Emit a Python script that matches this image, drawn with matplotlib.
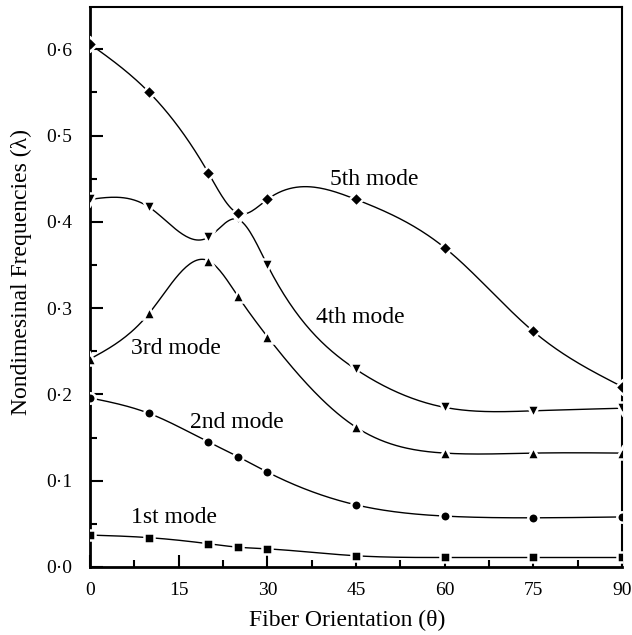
import numpy as np
import matplotlib
matplotlib.use("Agg")
import matplotlib.pyplot as plt
from matplotlib.ticker import MultipleLocator, FuncFormatter

theta = [0, 10, 20, 25, 30, 45, 60, 75, 90]
mode1 = [0.037, 0.034, 0.027, 0.023, 0.021, 0.013, 0.011, 0.011, 0.011]
mode2 = [0.196, 0.178, 0.145, 0.128, 0.110, 0.072, 0.059, 0.057, 0.058]
mode3 = [0.241, 0.294, 0.355, 0.314, 0.267, 0.162, 0.132, 0.132, 0.132]
mode4 = [0.426, 0.417, 0.382, 0.403, 0.350, 0.229, 0.185, 0.181, 0.184]
mode5 = [0.606, 0.550, 0.457, 0.410, 0.426, 0.426, 0.370, 0.273, 0.209]

labels = ["1st mode", "2nd mode", "3rd mode", "4th mode", "5th mode"]
label_x = [14.2, 24.8, 14.5, 45.7, 48.1]
label_y = [0.051, 0.161, 0.247, 0.283, 0.443]
markers = ["s", "o", "^", "v", "D"]
msizes = [7, 7.5, 8.5, 8.5, 7]


def natural_spline(x, y, n=300):
    x = np.asarray(x, float)
    y = np.asarray(y, float)
    m = len(x)
    h = np.diff(x)
    A = np.zeros((m, m))
    b = np.zeros(m)
    A[0, 0] = 1
    A[-1, -1] = 1
    for i in range(1, m - 1):
        A[i, i - 1] = h[i - 1]
        A[i, i] = 2 * (h[i - 1] + h[i])
        A[i, i + 1] = h[i]
        b[i] = 6 * ((y[i + 1] - y[i]) / h[i] - (y[i] - y[i - 1]) / h[i - 1])
    M = np.linalg.solve(A, b)
    xs = np.linspace(x[0], x[-1], n)
    idx = np.clip(np.searchsorted(x, xs) - 1, 0, m - 2)
    x0, x1 = x[idx], x[idx + 1]
    hh = x1 - x0
    t0 = x1 - xs
    t1 = xs - x0
    ys = (M[idx] * t0**3 / (6 * hh) + M[idx + 1] * t1**3 / (6 * hh)
          + (y[idx] / hh - M[idx] * hh / 6) * t0
          + (y[idx + 1] / hh - M[idx + 1] * hh / 6) * t1)
    return xs, ys


plt.rcParams['font.family'] = ['Liberation Serif', 'DejaVu Serif']
fig = plt.figure(figsize=(6.32, 6.35), dpi=100)
ax = fig.add_axes([0.1424, 0.1071, 0.8418, 0.8819])

for ys_data, mk, ms in zip([mode1, mode2, mode3, mode4, mode5], markers, msizes):
    xs, ys = natural_spline(theta, ys_data)
    ax.plot(xs, ys, color="black", lw=1.0, zorder=2)
    ax.plot(theta, ys_data, linestyle="none", marker=mk, ms=ms,
            mfc="black", mec="white", mew=1.8, zorder=3)

for t, lx, ly in zip(labels, label_x, label_y):
    ax.text(lx, ly, t, fontsize=17, ha="center", va="baseline", zorder=4)

ax.set_xlim(0, 90)
ax.set_ylim(0, 0.649)
ax.xaxis.set_major_locator(MultipleLocator(15))
ax.xaxis.set_minor_locator(MultipleLocator(7.5))
ax.yaxis.set_major_locator(MultipleLocator(0.1))
ax.yaxis.set_minor_locator(MultipleLocator(0.05))
ax.yaxis.set_major_formatter(FuncFormatter(lambda v, p: f"{v:.1f}".replace(".", "\u00b7")))
ax.tick_params(which="both", direction="in", top=False, right=False, labelsize=14, width=1.5)
ax.tick_params(which="major", length=9)
ax.tick_params(axis="x", which="major", pad=11)
ax.tick_params(axis="y", which="major", pad=13)
ax.tick_params(which="minor", length=5)
for s in ["left", "bottom"]:
    ax.spines[s].set_linewidth(2.0)
for s in ["top", "right"]:
    ax.spines[s].set_linewidth(1.5)

ax.set_xlabel("Fiber Orientation (\u03b8)", fontsize=17, va="center")
ax.xaxis.set_label_coords(0.484, -0.0946)
ax.set_ylabel("Nondimesinal Frequencies (\u03bb)", fontsize=17, va="center")
ax.yaxis.set_label_coords(-0.1297, 0.527)

fig.savefig("out.png", dpi=100)
